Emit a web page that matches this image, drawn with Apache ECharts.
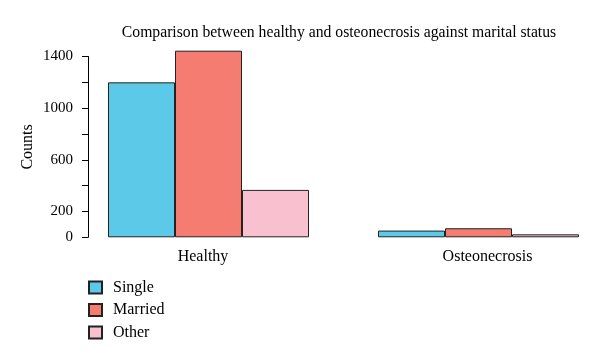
<!DOCTYPE html>
<html>
<head>
<meta charset="utf-8">
<script src="https://cdn.jsdelivr.net/npm/echarts@6/dist/echarts.min.js"></script>
<style>html,body{margin:0;padding:0;background:#fff}#c{width:600px;height:360px}</style>
</head>
<body>
<div id="c"></div>
<script>
const categories = ['Healthy', 'Osteonecrosis'];
const seriesNames = ['Single', 'Married', 'Other'];
const singleValues = [1200, 52];
const marriedValues = [1445, 70];
const otherValues = [367, 23];
const labeledTicks = [0, 200, 600, 1000, 1400];
const colors = ['#5bc9e7', '#f47c71', '#f9c1cf'];
const serif = '"Liberation Serif", "DejaVu Serif", serif';

const chart = echarts.init(document.getElementById('c'), null, {renderer: 'canvas'});
const values = [singleValues, marriedValues, otherValues];
const labelStyle = {fontFamily: serif, fontSize: 16, color: '#000'};
chart.setOption({
  animation: false,
  backgroundColor: '#fff',
  title: {
    text: 'Comparison between healthy and osteonecrosis against marital status',
    left: 334, top: 20, textAlign: 'center',
    textStyle: {fontFamily: serif, fontSize: 15.7, fontWeight: 'normal', color: '#000'}
  },
  legend: {
    orient: 'vertical', left: 83, top: 274.5,
    icon: 'rect',
    itemWidth: 13, itemHeight: 12, itemGap: 6.5,
    textStyle: {fontFamily: serif, fontSize: 16, color: '#000', padding: [0, 0, 0, 6]},
    data: seriesNames
  },
  grid: {left: 208.5, width: 270, top: 56.5, bottom: 122.7},
  xAxis: {
    type: 'category', data: categories, boundaryGap: false,
    axisLine: {show: false}, axisTick: {show: false},
    axisLabel: {
      fontFamily: serif, fontSize: 16, color: '#000', margin: 11,
      formatter: (v, i) => (i === 0 ? '{a|' : '{b|') + v + '}',
      rich: {
        a: Object.assign({padding: [0, 11, 0, 0]}, labelStyle),
        b: Object.assign({padding: [0, 0, 0, 18]}, labelStyle)
      }
    }
  },
  yAxis: {
    type: 'value', min: 0, max: 1400, interval: 200, offset: 120.5,
    name: 'Counts', nameLocation: 'middle', nameGap: 52,
    nameTextStyle: {fontFamily: serif, fontSize: 16, color: '#000'},
    splitLine: {show: false},
    axisLine: {show: true, lineStyle: {color: '#000', width: 1}},
    axisTick: {show: true, length: 6, lineStyle: {color: '#000'}},
    axisLabel: {
      fontFamily: serif, fontSize: 15, color: '#000', margin: 15,
      formatter: v => labeledTicks.includes(v) ? String(v) : ''
    }
  },
  series: seriesNames.map((n, i) => ({
    name: n, type: 'bar', data: values[i], clip: false,
    barWidth: 67, barGap: '0%',
    itemStyle: {color: colors[i], borderColor: '#222', borderWidth: 1}
  }))
});
</script>
</body>
</html>
